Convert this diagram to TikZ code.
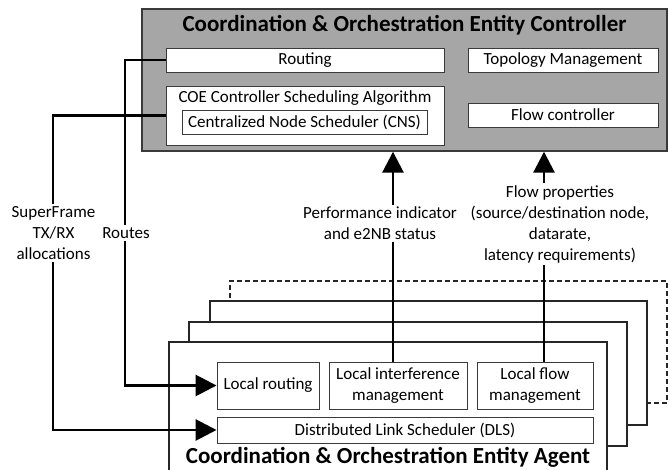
\documentclass[tikz,border=0pt]{standalone}
\usepackage{fontspec}
\setmainfont{Carlito}
\usetikzlibrary{arrows.meta}
\definecolor{ctrlgray}{HTML}{A6A6A6}
\definecolor{edge}{HTML}{3A3A3A}
\tikzset{
  x=1pt, y=-1pt,
  txt/.style={font=\fontsize{17}{21}\selectfont},
  ttl/.style={font=\fontsize{23}{27}\selectfont\bfseries},
  box/.style={draw=edge, line width=0.9pt, fill=white, inner sep=0pt, txt, align=center},
  stackbox/.style={draw=black!85, line width=1.1pt, fill=white, inner sep=0pt},
  lbl/.style={fill=white, inner sep=2pt, txt, align=center},
  arr/.style={line width=2.8pt, -{Triangle[length=21pt,width=21pt]}},
}
\begin{document}
\begin{tikzpicture}
\useasboundingbox (0,0) rectangle (670,470);
\clip (0,0) rectangle (670,470);

% controller block
\node[draw=edge, line width=1.4pt, fill=ctrlgray, minimum width=525pt, minimum height=142pt] (ctrl) at (404.5,80) {};
\node[ttl] (ctrltitle) at (404.5,25) {Coordination \& Orchestration Entity Controller};
\node[box, minimum width=278pt, minimum height=24pt] (routing) at (305,60) {Routing};
\node[box, minimum width=190pt, minimum height=24pt] (topo) at (563,60) {Topology Management};
\node[box, minimum width=278pt, minimum height=59pt] (coe) at (305,115.5) {};
\node[txt] (coetext) at (305,98) {COE Controller Scheduling Algorithm};
\node[box, minimum width=245pt, minimum height=24pt] (cns) at (304.5,122) {Centralized Node Scheduler (CNS)};
\node[box, minimum width=190pt, minimum height=24pt] (flowctl) at (563,115) {Flow controller};

% stacked agent instances, back to front
\node[stackbox, dash pattern=on 5pt off 3pt, minimum width=437pt, minimum height=122pt] (agent4) at (448.5,342) {};
\node[stackbox, minimum width=437pt, minimum height=124pt] (agent3) at (428.5,363) {};
\node[stackbox, minimum width=438pt, minimum height=124pt] (agent2) at (408,384) {};
\node[stackbox, minimum width=438pt, minimum height=160pt] (agent1) at (388,422) {};

\node[box, minimum width=102pt, minimum height=47pt] (lroute) at (268,385.5) {Local routing};
\node[box, minimum width=138pt, minimum height=47pt] (linter) at (398,385.5) {Local interference\\management};
\node[box, minimum width=116pt, minimum height=47pt] (lflow) at (535,385.5) {Local flow\\management};
\node[box, minimum width=376pt, minimum height=26pt] (dls) at (405,430) {Distributed Link Scheduler (DLS)};
\node[ttl] (agenttitle) at (388,457) {Coordination \& Orchestration Entity Agent};

% connector columns
\coordinate (sfx) at (53,0);
\coordinate (rtx) at (125,0);
\coordinate (pfx) at (393,0);
\coordinate (fpx) at (544,0);

\draw[arr] (routing.west) -- (routing.west -| rtx) -- (lroute.west -| rtx) -- (lroute.west);
\draw[arr] (coe.west) -- (coe.west -| sfx) -- (dls.west -| sfx) -- (dls.west);
\draw[arr] (linter.north -| pfx) -- (ctrl.south -| pfx);
\draw[arr] (lflow.north -| fpx) -- (ctrl.south -| fpx);

\node[lbl] (routes) at (126,233) {Routes};
\node[lbl] (superframe) at (53.5,233) {SuperFrame\\TX/RX\\allocations};
\node[lbl] (perf) at (380,223.5) {Performance indicator\\and e2NB status};
\node[lbl] (flowprop) at (560,224) {Flow properties\\(source/destination node,\\datarate,\\latency requirements)};
\end{tikzpicture}
\end{document}
